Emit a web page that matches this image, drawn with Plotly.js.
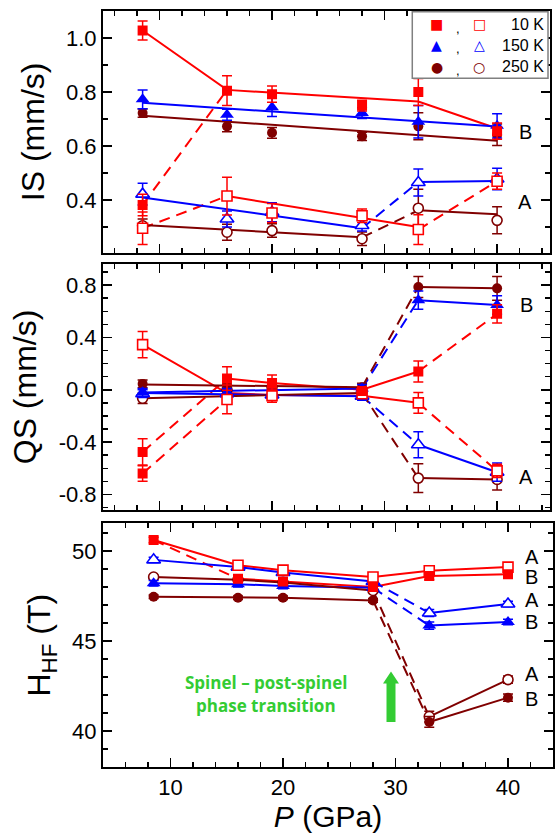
<!DOCTYPE html>
<html><head><meta charset="utf-8">
<script src="https://cdn.plot.ly/plotly-3.0.1.min.js"></script>
<style>html,body{margin:0;padding:0;background:#fff}#chart{width:555px;height:834px}</style>
</head><body><div id="chart"></div>
<script>
// Pressure (GPa)
const P = [8.5, 16, 20, 28, 33, 40];

// ---------- IS (mm/s) ----------
const IS_10K_B  = [1.028, 0.805, 0.792, 0.750, 0.800, 0.655];
const IS_10K_Be = [0.035, 0.055, 0.030, 0.020, 0.050, 0.030];
const IS_10K_X  = [0.382, null, null, null, null, null];
const IS_10K_Xe = [0.040, 0, 0, 0, 0, 0];
const IS_10K_A  = [0.296, 0.415, 0.352, 0.342, 0.291, 0.470];
const IS_10K_Ae = [0.060, 0.070, 0.035, 0.025, 0.055, 0.030];
const IS_150K_B  = [0.773, 0.716, 0.744, 0.722, 0.690, 0.675];
const IS_150K_Be = [0.035, 0.020, 0.035, 0.020, 0.060, 0.045];
const IS_150K_A  = [0.422, 0.330, 0.355, 0.306, 0.465, 0.478];
const IS_150K_Ae = [0.040, 0.030, 0.035, 0.020, 0.050, 0.040];
const IS_250K_B  = [0.722, 0.673, 0.649, 0.636, 0.673, 0.642];
const IS_250K_Be = [0.015, 0.020, 0.020, 0.015, 0.050, 0.040];
const IS_250K_A  = [0.305, 0.281, 0.287, 0.257, 0.370, 0.325];
const IS_250K_Ae = [0.025, 0.030, 0.025, 0.025, 0.070, 0.050];
// IS guide lines
const IS_10K_fitB   = [1.028, 0.808, null, null, 0.765, 0.665];
const IS_10K_fitA   = [null, 0.415, null, null, 0.300, null];
const IS_10K_dashB  = [0.382, 0.808, null, null, null, null];
const IS_10K_dashA1 = [0.296, 0.415, null, null, null, null];
const IS_10K_dashA2 = [null, null, null, null, 0.291, 0.470];
const IS_150K_fitB  = [0.760, null, null, null, null, 0.672];
const IS_150K_fitA1 = [0.410, null, null, 0.296, null, null];
const IS_150K_fitA2 = [null, null, null, null, 0.467, 0.471];
const IS_150K_dashA = [null, null, null, 0.296, 0.467, null];
const IS_250K_fitB  = [0.712, null, null, null, null, 0.620];
const IS_250K_fitA1 = [0.308, null, null, 0.262, null, null];
const IS_250K_fitA2 = [null, null, null, null, 0.362, 0.348];
const IS_250K_dashA = [null, null, null, 0.262, 0.362, null];

// ---------- QS (mm/s) ----------
const QS_10K_B  = [-0.640, 0.086, 0.052, -0.010, 0.140, 0.580];
const QS_10K_Be = [0.060, 0.090, 0.060, 0.030, 0.080, 0.070];
const QS_10K_X  = [-0.475, null, null, null, null, null];
const QS_10K_Xe = [0.100, 0, 0, 0, 0, 0];
const QS_10K_A  = [0.345, -0.074, -0.045, -0.030, -0.100, -0.620];
const QS_10K_Ae = [0.100, 0.110, 0.050, 0.030, 0.080, 0.050];
const QS_150K_B  = [-0.020, -0.020, -0.020, 0.010, 0.685, 0.648];
const QS_150K_Be = [0.030, 0.030, 0.040, 0.030, 0.070, 0.070];
const QS_150K_A  = [-0.030, -0.030, -0.040, -0.050, -0.420, -0.630];
const QS_150K_Ae = [0.030, 0.030, 0.030, 0.030, 0.100, 0.070];
const QS_250K_B  = [0.045, 0.040, 0.030, 0.020, 0.785, 0.775];
const QS_250K_Be = [0.030, 0.030, 0.030, 0.030, 0.080, 0.090];
const QS_250K_A  = [-0.065, 0.000, 0.020, -0.020, -0.675, -0.685];
const QS_250K_Ae = [0.040, 0.040, 0.040, 0.030, 0.110, 0.080];
// QS guide lines
const QS_10K_lineB  = [null, 0.086, 0.052, 0.000, 0.140, null];
const QS_10K_lineA  = [0.345, -0.025, -0.040, -0.045, -0.100, null];
const QS_10K_dashX  = [-0.475, 0.086, null, null, null, null];
const QS_10K_dashB1 = [-0.640, -0.074, null, null, null, null];
const QS_10K_dashB2 = [null, null, null, null, 0.140, 0.580];
const QS_10K_dashA2 = [null, null, null, null, -0.100, -0.620];
const QS_150K_lineB1 = [-0.020, null, null, 0.010, null, null];
const QS_150K_lineB2 = [null, null, null, null, 0.685, 0.648];
const QS_150K_dashB  = [null, null, null, 0.010, 0.685, null];
const QS_150K_lineA1 = [-0.025, null, null, -0.050, null, null];
const QS_150K_lineA2 = [null, null, null, null, -0.420, -0.630];
const QS_150K_dashA  = [null, null, null, -0.050, -0.420, null];
const QS_250K_lineB1 = [0.040, null, null, 0.020, null, null];
const QS_250K_lineB2 = [null, null, null, null, 0.785, 0.775];
const QS_250K_dashB  = [null, null, null, 0.020, 0.785, null];
const QS_250K_lineA1 = [-0.065, null, null, -0.025, null, null];
const QS_250K_lineA2 = [null, null, null, null, -0.675, -0.685];
const QS_250K_dashA  = [null, null, null, -0.025, -0.675, null];

// ---------- H_HF (T) ----------
const H_10K_B  = [50.60, 48.45, 48.30, 48.00, 48.60, 48.70];
const H_10K_A  = [null, 49.20, 48.93, 48.55, 48.90, 49.10];
const H_150K_B = [48.20, 48.15, 48.05, 47.95, 45.85, 46.05];
const H_150K_A = [49.50, 49.10, 48.80, 48.30, 46.55, 47.05];
const H_250K_B = [47.45, 47.40, 47.40, 47.25, 40.50, 41.85];
const H_250K_A = [48.55, 48.40, 48.25, 47.80, 40.80, 42.85];
const H_err    = [0.15, 0.15, 0.15, 0.15, 0.20, 0.15];
const H_err250 = [0.10, 0.10, 0.10, 0.10, 0.30, 0.20];
const H_10K_lineA = [50.60, 49.20, 48.93, 48.55, 48.90, 49.10];
const H_10K_dashB = [50.60, 48.45, null, null, null, null];

// ticks / labels
const QS_tickvals = [-0.8, -0.4, 0.0, 0.4, 0.8];
const QS_ticktext = ['-0.8', '-0.4', '0.0', '0.4', '0.8'];
const IS_tickvals = [0.4, 0.6, 0.8, 1.0];
const IS_ticktext = ['0.4', '0.6', '0.8', '1.0'];
const legendRows = ['10 K', '150 K', '250 K'];

const RED = '#ff0000', BLUE = '#0000ff', MAR = '#800000';
const DASH = '11px,7px';

// helper: keep values between indices i0..i1
function seg(arr, i0, i1) { return arr.map((v, i) => (i >= i0 && i <= i1) ? v : null); }

const traces = [];
function line(xa, ya, y, color, dashed) {
  traces.push({x: P, y: y, xaxis: xa, yaxis: ya, mode: 'lines', connectgaps: true,
    line: {color: color, width: 2, dash: dashed ? DASH : 'solid'}, hoverinfo: 'skip', showlegend: false});
}
function marks(xa, ya, y, err, color, shape, open) {
  const sz = shape === 'triangle-up' ? 12 : 10;
  traces.push({x: P, y: y, xaxis: xa, yaxis: ya, mode: 'markers',
    marker: {symbol: shape, size: sz, color: open ? '#ffffff' : color,
             line: {width: open ? 1.6 : 0, color: color}},
    error_y: {type: 'data', array: err, visible: true, color: color, thickness: 1.5, width: 5},
    hoverinfo: 'skip', showlegend: false});
}

// ----- panel 1: IS -----
line('x','y', IS_10K_fitB, RED); line('x','y', IS_10K_fitA, RED);
line('x','y', IS_10K_dashB, RED, 1); line('x','y', IS_10K_dashA1, RED, 1); line('x','y', IS_10K_dashA2, RED, 1);
line('x','y', IS_150K_fitB, BLUE); line('x','y', IS_150K_fitA1, BLUE); line('x','y', IS_150K_fitA2, BLUE);
line('x','y', IS_150K_dashA, BLUE, 1);
line('x','y', IS_250K_fitB, MAR); line('x','y', IS_250K_fitA1, MAR); line('x','y', IS_250K_fitA2, MAR);
line('x','y', IS_250K_dashA, MAR, 1);
marks('x','y', IS_250K_A, IS_250K_Ae, MAR, 'circle', true);
marks('x','y', IS_250K_B, IS_250K_Be, MAR, 'circle', false);
marks('x','y', IS_150K_A, IS_150K_Ae, BLUE, 'triangle-up', true);
marks('x','y', IS_150K_B, IS_150K_Be, BLUE, 'triangle-up', false);
marks('x','y', IS_10K_A, IS_10K_Ae, RED, 'square', true);
marks('x','y', IS_10K_B, IS_10K_Be, RED, 'square', false);
marks('x','y', IS_10K_X, IS_10K_Xe, RED, 'square', false);

// ----- panel 2: QS -----
line('x2','y2', QS_10K_lineB, RED); line('x2','y2', QS_10K_lineA, RED);
line('x2','y2', QS_10K_dashX, RED, 1); line('x2','y2', QS_10K_dashB1, RED, 1);
line('x2','y2', QS_10K_dashB2, RED, 1); line('x2','y2', QS_10K_dashA2, RED, 1);
line('x2','y2', QS_150K_lineB1, BLUE); line('x2','y2', QS_150K_lineB2, BLUE); line('x2','y2', QS_150K_dashB, BLUE, 1);
line('x2','y2', QS_150K_lineA1, BLUE); line('x2','y2', QS_150K_lineA2, BLUE); line('x2','y2', QS_150K_dashA, BLUE, 1);
line('x2','y2', QS_250K_lineB1, MAR); line('x2','y2', QS_250K_lineB2, MAR); line('x2','y2', QS_250K_dashB, MAR, 1);
line('x2','y2', QS_250K_lineA1, MAR); line('x2','y2', QS_250K_lineA2, MAR); line('x2','y2', QS_250K_dashA, MAR, 1);
marks('x2','y2', QS_250K_A, QS_250K_Ae, MAR, 'circle', true);
marks('x2','y2', QS_250K_B, QS_250K_Be, MAR, 'circle', false);
marks('x2','y2', QS_150K_A, QS_150K_Ae, BLUE, 'triangle-up', true);
marks('x2','y2', QS_150K_B, QS_150K_Be, BLUE, 'triangle-up', false);
marks('x2','y2', QS_10K_A, QS_10K_Ae, RED, 'square', true);
marks('x2','y2', QS_10K_B, QS_10K_Be, RED, 'square', false);
marks('x2','y2', QS_10K_X, QS_10K_Xe, RED, 'square', false);

// ----- panel 3: H_HF -----
line('x3','y3', H_10K_lineA, RED); line('x3','y3', seg(H_10K_B, 1, 5), RED); line('x3','y3', H_10K_dashB, RED, 1);
line('x3','y3', seg(H_150K_A, 0, 3), BLUE); line('x3','y3', seg(H_150K_A, 4, 5), BLUE); line('x3','y3', seg(H_150K_A, 3, 4), BLUE, 1);
line('x3','y3', seg(H_150K_B, 0, 3), BLUE); line('x3','y3', seg(H_150K_B, 4, 5), BLUE); line('x3','y3', seg(H_150K_B, 3, 4), BLUE, 1);
line('x3','y3', seg(H_250K_A, 0, 3), MAR); line('x3','y3', seg(H_250K_A, 4, 5), MAR); line('x3','y3', seg(H_250K_A, 3, 4), MAR, 1);
line('x3','y3', seg(H_250K_B, 0, 3), MAR); line('x3','y3', seg(H_250K_B, 4, 5), MAR); line('x3','y3', seg(H_250K_B, 3, 4), MAR, 1);
marks('x3','y3', H_250K_A, H_err250, MAR, 'circle', true);
marks('x3','y3', H_250K_B, H_err250, MAR, 'circle', false);
marks('x3','y3', H_150K_A, H_err, BLUE, 'triangle-up', true);
marks('x3','y3', H_150K_B, H_err, BLUE, 'triangle-up', false);
marks('x3','y3', H_10K_A, H_err, RED, 'square', true);
marks('x3','y3', H_10K_B, H_err, RED, 'square', false);

const FONT = 'Liberation Sans, Arial, sans-serif';
const tickFont = {family: FONT, size: 22, color: '#000'};
function xax(anchor, range, domain, labels) {
  return {anchor: anchor, range: range, domain: domain, showline: true, linecolor: '#000', linewidth: 2,
    mirror: 'allticks', ticks: 'inside', ticklen: 9, tickwidth: 1.5, tickcolor: '#000',
    dtick: 10, tick0: 0, showgrid: false, zeroline: false, showticklabels: labels, tickfont: tickFont,
    minor: {dtick: 2, tick0: 0, ticks: 'inside', ticklen: 5, tickwidth: 1.5, tickcolor: '#000', showgrid: false}};
}
function yax(anchor, range, domain, dtick, mdtick, title) {
  return {anchor: anchor, range: range, domain: domain, showline: true, linecolor: '#000', linewidth: 2,
    mirror: 'allticks', ticks: 'inside', ticklen: 9, tickwidth: 1.5, tickcolor: '#000',
    dtick: dtick, tick0: 0, showgrid: false, zeroline: false, tickfont: tickFont,
    title: {text: title, font: {family: FONT, size: 32, color: '#000'}, standoff: 12},
    minor: {dtick: mdtick, tick0: 0, ticks: 'inside', ticklen: 5, tickwidth: 1.5, tickcolor: '#000', showgrid: false}};
}

const layout = {
  width: 555, height: 834, paper_bgcolor: '#fff', plot_bgcolor: '#fff',
  margin: {l: 103, r: 2, t: 11, b: 67},
  showlegend: false,
  xaxis: xax('y', [4.98, 44.7], [0, 0.9933], false),
  xaxis2: xax('y2', [4.98, 44.7], [0, 0.9933], false),
  xaxis3: Object.assign(xax('y3', [4, 44], [0, 1], true),
    {title: {text: '<i>P</i> (GPa)', font: {family: FONT, size: 30, color: '#000'}, standoff: 4}}),
  yaxis: Object.assign(yax('x', [0.205, 1.1], [0.6802, 1], 0.2, 0.1, 'IS (mm/s)'),
    {tickmode: 'array', tickvals: IS_tickvals, ticktext: IS_ticktext}),
  yaxis2: Object.assign(yax('x2', [-0.915, 0.958], [0.3406, 0.6648], 0.4, 0.1, 'QS (mm/s)'),
    {tickmode: 'array', tickvals: QS_tickvals, ticktext: QS_ticktext}),
  yaxis3: yax('x3', [38, 51.52], [0, 0.3221], 5, 1, 'H<sub>HF</sub> (T)'),
  shapes: [
    {type: 'rect', xref: 'paper', yref: 'paper', x0: 0.6873, x1: 0.9889, y0: 0.9109, y1: 0.9991,
     line: {color: '#808080', width: 1.5}, fillcolor: '#fff', layer: 'above'},
    {type: 'path', xref: 'x3', yref: 'y3', fillcolor: '#33cc33', line: {width: 0},
     path: 'M29.2,40.5 L30.0,40.5 L30.0,42.63 L30.31,42.63 L29.6,43.3 L28.89,42.63 L29.2,42.63 Z'}
  ],
  annotations: []
};

// legend content
const legSyms = [['■', '□', RED], ['▲', '△', BLUE], ['●', '○', MAR]];
const rowY = [0.9824, 0.9550, 0.9263];
legSyms.forEach((s, i) => {
  layout.annotations.push({xref: 'paper', yref: 'paper', x: 0.7416, y: rowY[i], text: s[0], showarrow: false,
    font: {family: 'DejaVu Sans', size: 14, color: s[2]}, xanchor: 'center', yanchor: 'middle'});
  layout.annotations.push({xref: 'paper', yref: 'paper', x: 0.7889, y: rowY[i] - 0.005, text: ',', showarrow: false,
    font: {family: FONT, size: 13, color: '#000'}, xanchor: 'center', yanchor: 'middle'});
  layout.annotations.push({xref: 'paper', yref: 'paper', x: 0.8362, y: rowY[i], text: '<b>' + s[1] + '</b>', showarrow: false,
    font: {family: 'DejaVu Sans', size: 14, color: s[2]}, xanchor: 'center', yanchor: 'middle'});
  layout.annotations.push({xref: 'paper', yref: 'paper', x: 0.9850, y: rowY[i], text: legendRows[i], showarrow: false,
    font: {family: FONT, size: 16, color: '#000'}, xanchor: 'right', yanchor: 'middle'});
});

// site labels
const siteLab = [
  ['x', 'y', 42.5, 0.652, 'B'], ['x', 'y', 42.5, 0.393, 'A'],
  ['x2', 'y2', 42.6, 0.647, 'B'], ['x2', 'y2', 42.6, -0.666, 'A'],
  ['x3', 'y3', 42.1, 49.67, 'A'], ['x3', 'y3', 42.1, 48.56, 'B'],
  ['x3', 'y3', 42.1, 47.26, 'A'], ['x3', 'y3', 42.1, 46.06, 'B'],
  ['x3', 'y3', 42.1, 43.19, 'A'], ['x3', 'y3', 42.1, 41.80, 'B']
];
siteLab.forEach(a => layout.annotations.push({xref: a[0], yref: a[1], x: a[2], y: a[3], text: a[4],
  showarrow: false, xanchor: 'center', yanchor: 'middle', font: {family: FONT, size: 20, color: '#000'}}));

layout.annotations.push({xref: 'x3', yref: 'y3', x: 18.5, y: 42.67,
  text: '<b>Spinel – post-spinel</b>', showarrow: false, xanchor: 'center', yanchor: 'middle',
  font: {family: 'Open Sans, sans-serif', size: 17, color: '#33cc33'}});
layout.annotations.push({xref: 'x3', yref: 'y3', x: 18.5, y: 41.43,
  text: '<b>phase transition</b>', showarrow: false, xanchor: 'center', yanchor: 'middle',
  font: {family: 'Open Sans, sans-serif', size: 17, color: '#33cc33'}});

Plotly.newPlot('chart', traces, layout, {staticPlot: true, displayModeBar: false});
</script>
</body></html>
